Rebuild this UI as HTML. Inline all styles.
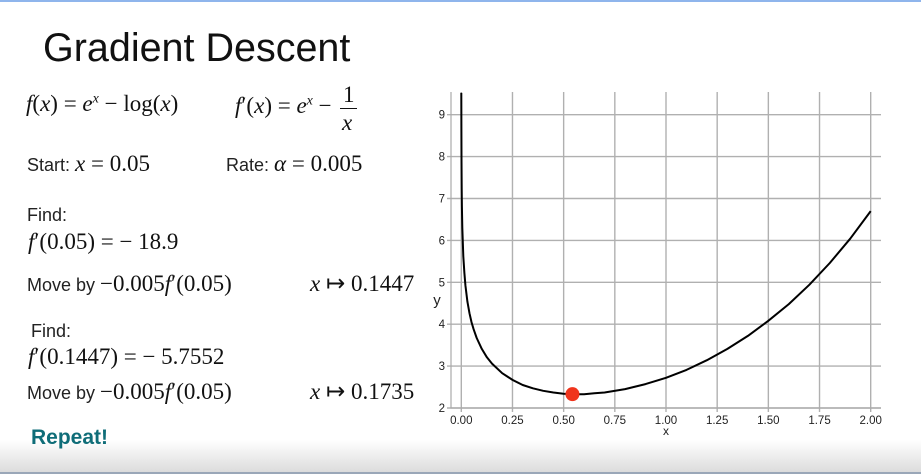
<!DOCTYPE html>
<html><head><meta charset="utf-8"><style>
body{margin:0;width:921px;height:474px;overflow:hidden;background:#fff;position:relative;font-family:"Liberation Sans",sans-serif}
.t{position:absolute;white-space:nowrap;line-height:1}
.s{font-family:"Liberation Sans",sans-serif;font-size:18px;color:#222}
.m{font-family:"Liberation Serif",serif;font-size:23px;color:#111}
i{font-style:italic}
</style></head><body>
<div style="position:absolute;left:0;top:0;width:921px;height:2px;background:#8fb5ec"></div>
<div style="position:absolute;left:0;top:440px;width:921px;height:32px;background:linear-gradient(#fff,#dcdcdc)"></div>
<div style="position:absolute;left:0;top:472px;width:921px;height:2px;background:#9aa7b8"></div>

<div class="t" style="left:43px;top:29px;font-size:39.5px;color:#111">Gradient Descent</div>
<div class="t m" style="left:26px;top:92px"><i>f</i>(<i>x</i>) = <i>e<sup style="font-size:14px">x</sup></i> − log(<i>x</i>)</div>
<div class="t m" style="left:235px;top:94px"><i>f</i>′(<i>x</i>) = <i>e<sup style="font-size:14px">x</sup></i> −</div>
<div class="t m" style="left:343px;top:83px">1</div>
<div style="position:absolute;left:340px;top:108px;width:17px;height:1px;background:#111"></div>
<div class="t m" style="left:342px;top:111px"><i>x</i></div>
<div class="t" style="left:27px;top:152px"><span class="s">Start: </span><span class="m"><i>x</i> = 0.05</span></div>
<div class="t" style="left:226px;top:152px"><span class="s">Rate: </span><span class="m"><i>α</i> = 0.005</span></div>
<div class="t s" style="left:27px;top:206px">Find:</div>
<div class="t m" style="left:28px;top:230px"><i>f</i>′(0.05) = − 18.9</div>
<div class="t" style="left:27px;top:272px"><span class="s">Move by </span><span class="m">−0.005<i>f</i>′(0.05)</span></div>
<div class="t m" style="left:310px;top:272px"><i>x</i> ↦ 0.1447</div>
<div class="t s" style="left:31px;top:322px">Find:</div>
<div class="t m" style="left:28px;top:345px"><i>f</i>′(0.1447) = − 5.7552</div>
<div class="t" style="left:27px;top:380px"><span class="s">Move by </span><span class="m">−0.005<i>f</i>′(0.05)</span></div>
<div class="t m" style="left:310px;top:380px"><i>x</i> ↦ 0.1735</div>
<div class="t" style="left:31px;top:427px;font-size:21px;font-weight:bold;color:#0f6d78">Repeat!</div>

<svg id="chart" width="921" height="474" style="position:absolute;left:0;top:0" font-family="Liberation Sans, DejaVu Sans, sans-serif"></svg>
<script>
const xTicks=[0,0.25,0.5,0.75,1,1.25,1.5,1.75,2];
const xTickLabels=["0.00","0.25","0.50","0.75","1.00","1.25","1.50","1.75","2.00"];
const yTicks=[2,3,4,5,6,7,8,9];
const yTickLabels=["2","3","4","5","6","7","8","9"];
const curveX=[0.0002,0.0005,0.001,0.002,0.003,0.005,0.01,0.015,0.02,0.03,0.04,0.05,0.06,0.075,0.1,0.125,0.15,0.2,0.25,0.3,0.35,0.4,0.45,0.5,0.55,0.6,0.65,0.7,0.8,0.9,1.0,1.1,1.2,1.3,1.4,1.5,1.6,1.7,1.8,1.9,2.0];
const curveY=[9.52,8.60,7.91,7.22,6.81,6.30,5.62,5.22,4.93,4.54,4.26,4.05,3.88,3.67,3.41,3.21,3.06,2.83,2.67,2.55,2.47,2.41,2.37,2.34,2.33,2.33,2.35,2.37,2.45,2.57,2.72,2.91,3.14,3.41,3.72,4.08,4.48,4.94,5.46,6.04,6.70];
const pointX=[0.543];
const pointY=[2.33];
const NS="http://www.w3.org/2000/svg";
const svg=document.getElementById('chart');
const L=451,R=881,T=92,B=408;
const sx=v=>461.3+v*204.7;
const sy=v=>408-(v-2)*41.9;
function mk(t,a,p){const e=document.createElementNS(NS,t);for(const k in a)e.setAttribute(k,a[k]);(p||svg).appendChild(e);return e;}
xTicks.forEach((v,i)=>{
  const g=mk('line',{x1:sx(v),x2:sx(v),y1:T,y2:B+4,stroke:'#b0b0b0','stroke-width':1.4});
  
  
  const t=mk('text',{x:sx(v),y:B+16,'text-anchor':'middle','font-size':11.5,fill:'#222'});
  t.textContent=xTickLabels[i];
  
  
});
yTicks.forEach((v,i)=>{
  const g=mk('line',{x1:L-4,x2:R,y1:sy(v),y2:sy(v),stroke:'#b0b0b0','stroke-width':1.4});
  
  
  const t=mk('text',{x:L-6,y:sy(v)+4,'text-anchor':'end','font-size':11.5,fill:'#222'});
  t.textContent=yTickLabels[i];
  
  
});
const ax=mk('path',{d:`M${L},${T} V${B} H${R}`,stroke:'#aaa','stroke-width':1.2,fill:'none'});


let d='';
curveX.forEach((v,i)=>{d+=(i?'L':'M')+sx(v).toFixed(1)+','+Math.max(T,sy(curveY[i])).toFixed(1);});
const c=mk('path',{d:d,stroke:'#000','stroke-width':2,fill:'none','stroke-linejoin':'round'});


pointX.forEach((v,i)=>{
  const p=mk('circle',{cx:sx(v),cy:sy(pointY[i]),r:7,fill:'#f0341c'});
  
  
});
const xl=mk('text',{x:666,y:435,'text-anchor':'middle','font-size':12,fill:'#222'});xl.textContent='x';


const yl=mk('text',{x:437,y:305,'text-anchor':'middle','font-size':15,fill:'#222'});yl.textContent='y';


</script>
</body></html>
